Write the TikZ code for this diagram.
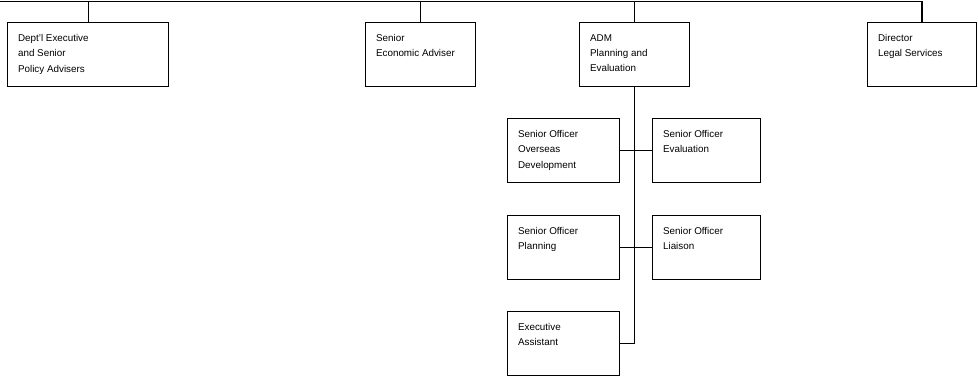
\documentclass[tikz,border=0pt]{standalone}
\usepackage{fontspec}
\setmainfont{Liberation Sans}

\begin{document}
\begin{tikzpicture}[x=0.025cm, y=-0.025cm,
    box/.style={draw, line width=0.9pt, anchor=north west, minimum height=1.6cm, inner sep=0pt},
    txt/.style={anchor=north west, align=left, inner xsep=0.27cm, inner ysep=0.3cm,
      font=\fontsize{7}{11}\selectfont},
    link/.style={line width=0.9pt}]
    \useasboundingbox (0,0) rectangle (978,376);

    % top row
    \node[box, minimum width=4.025cm] (dept) at (7,22) {};
    \node[box, minimum width=2.75cm] (sea) at (365,22) {};
    \node[box, minimum width=2.75cm] (adm) at (579,22) {};
    \node[box, minimum width=2.72cm] (dir) at (867,22) {};

    \node[txt] (dept-t) at (dept.north west) {Dept'l Executive\\and Senior\\Policy Advisers};
    \node[txt] (sea-t) at (sea.north west) {Senior\\Economic Adviser};
    \node[txt] (adm-t) at (adm.north west) {ADM\\Planning and\\Evaluation};
    \node[txt] (dir-t) at (dir.north west) {Director\\Legal Services};

    % under the ADM
    \node[box, minimum width=2.8cm] (ovs) at (507,118) {};
    \node[box, minimum width=2.7cm] (eval) at (652,118) {};
    \node[box, minimum width=2.8cm] (plan) at (507,215) {};
    \node[box, minimum width=2.7cm] (liai) at (652,215) {};
    \node[box, minimum width=2.8cm] (exec) at (507,311) {};

    \node[txt] (ovs-t) at (ovs.north west) {Senior Officer\\Overseas\\Development};
    \node[txt] (eval-t) at (eval.north west) {Senior Officer\\Evaluation};
    \node[txt] (plan-t) at (plan.north west) {Senior Officer\\Planning};
    \node[txt] (liai-t) at (liai.north west) {Senior Officer\\Liaison};
    \node[txt] (exec-t) at (exec.north west) {Executive\\Assistant};

    \coordinate (bar-w) at (0,1.5);

    \draw[link, line width=1.3pt] (bar-w) -| (dir.north);
    \draw[link] (dept.north) -- (dept.north |- bar-w);
    \draw[link] (sea.north) -- (sea.north |- bar-w);
    \draw[link] (adm.north) -- (adm.north |- bar-w);

    \draw[link] (adm.south) -- (adm.south |- exec.east);
    \draw[link] (ovs.east) -- (eval.west);
    \draw[link] (plan.east) -- (liai.west);
    \draw[link] (exec.east) -- (adm.south |- exec.east);
\end{tikzpicture}
\end{document}
